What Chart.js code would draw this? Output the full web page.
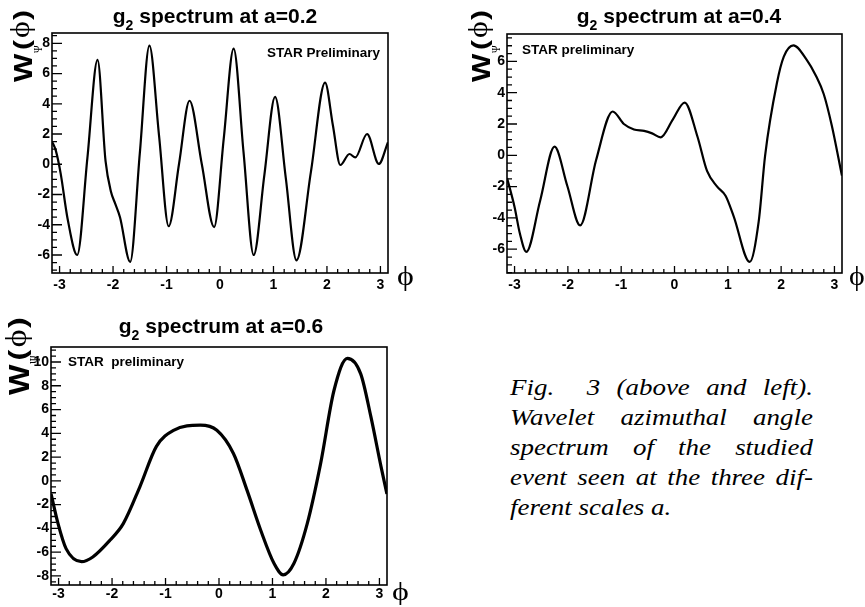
<!DOCTYPE html>
<html>
<head>
<meta charset="utf-8">
<script src="https://cdn.jsdelivr.net/npm/chart.js@4"></script>
<style>
  body { margin: 0; background: #fff; width: 865px; height: 607px; position: relative; overflow: hidden; }
  canvas { position: absolute; }
  #caption { position: absolute; left: 510px; top: 372px; width: 270px; font: italic 24px "Liberation Serif", serif; line-height: 30px; color: #000; transform: scaleX(1.122); transform-origin: 0 0; }
  #caption div { text-align: justify; text-align-last: justify; }
  #caption div.last { text-align: left; text-align-last: left; }
</style>
</head>
<body>
<canvas id="c1" width="432" height="300" style="left:0;top:0"></canvas>
<canvas id="c2" width="433" height="300" style="left:432px;top:0"></canvas>
<canvas id="c3" width="432" height="307" style="left:0;top:300px"></canvas>
<div id="caption">
  <div>Fig. &nbsp;3 (above and left).</div>
  <div>Wavelet azimuthal angle</div>
  <div>spectrum of the studied</div>
  <div>event seen at the three dif-</div>
  <div class="last">ferent scales <i>a</i>.</div>
</div>
<script>
// valeurs (phi, W)
const phi1 = [-3.14, -3.07, -2.98, -2.85, -2.67, -2.48, -2.29, -2.14, -2.04, -1.96, -1.87, -1.68, -1.50, -1.32, -1.14, -0.96, -0.765, -0.57, -0.34, -0.11, 0.07, 0.255, 0.44, 0.63, 0.83, 1.03, 1.23, 1.43, 1.70, 1.965, 2.11, 2.25, 2.42, 2.53, 2.75, 2.97, 3.14];
const w1   = [1.5, 0.9, -0.6, -3.6, -6.0, 0.4, 6.9, 0.2, -1.8, -2.6, -3.5, -6.45, 0.7, 7.85, 1.9, -4.1, 0.05, 4.2, 0.0, -4.15, 1.7, 7.65, 0.8, -6.0, -0.7, 4.45, -0.9, -6.35, -0.5, 5.4, 2.6, -0.05, 0.68, 0.45, 2.0, 0.02, 1.45];

const phi2 = [-3.14, -3.0, -2.9, -2.78, -2.52, -2.25, -2.01, -1.77, -1.47, -1.16, -0.95, -0.76, -0.57, -0.42, -0.26, -0.03, 0.19, 0.43, 0.61, 0.80, 0.96, 1.11, 1.41, 1.58, 1.70, 1.92, 2.05, 2.23, 2.48, 2.65, 2.80, 2.95, 3.14];
const w2   = [-1.45, -3.3, -5.0, -6.17, -2.9, 0.55, -1.96, -4.48, -0.3, 2.8, 2.0, 1.65, 1.56, 1.4, 1.15, 2.3, 3.37, 1.2, -1.0, -2.0, -2.6, -3.9, -6.81, -4.2, 0.0, 4.6, 6.3, 7.02, 6.1, 5.1, 3.9, 1.9, -1.3];

const phi3 = [-3.14, -3.01, -2.86, -2.57, -2.36, -2.04, -1.79, -1.48, -1.17, -0.85, -0.35, -0.04, 0.27, 0.525, 0.78, 1.03, 1.20, 1.40, 1.65, 1.90, 2.15, 2.40, 2.65, 2.84, 3.03, 3.14];
const w3   = [-1.1, -3.6, -5.7, -6.8, -6.4, -5.0, -3.6, -0.5, 2.9, 4.25, 4.68, 4.25, 2.3, -0.8, -4.15, -6.95, -7.9, -6.95, -3.6, 1.45, 7.6, 10.3, 9.0, 5.4, 1.2, -1.1];

const xTickLabels = [-3, -2, -1, 0, 1, 2, 3];
const yTicks1 = [-6, -4, -2, 0, 2, 4, 6, 8];
const yTicks2 = [-6, -4, -2, 0, 2, 4, 6];
const yTicks3 = [-8, -6, -4, -2, 0, 2, 4, 6, 8, 10];

const SANS = '"Liberation Sans", Arial, sans-serif';
const SERIF = '"Liberation Serif", "DejaVu Serif", serif';

// place l'encre d'un texte dans une boite (rot = lecture de bas en haut)
function fitText(ctx, text, font, x0, y0, x1, y1, rot){
  ctx.save();
  ctx.font = font;
  ctx.textAlign = "left";
  ctx.textBaseline = "alphabetic";
  const m = ctx.measureText(text);
  const iw = m.actualBoundingBoxLeft + m.actualBoundingBoxRight;
  const ih = m.actualBoundingBoxAscent + m.actualBoundingBoxDescent;
  if (rot){
    ctx.translate(x0, y1);
    ctx.rotate(-Math.PI / 2);
    ctx.scale((y1 - y0) / iw, (x1 - x0) / ih);
  } else {
    ctx.translate(x0, y0);
    ctx.scale((x1 - x0) / iw, (y1 - y0) / ih);
  }
  ctx.fillText(text, m.actualBoundingBoxLeft, m.actualBoundingBoxAscent);
  ctx.restore();
}

function drawTitle(ctx, cx, base, scale){
  const rest = " spectrum at a=" + scale;
  const big = "bold 21px " + SANS, small = "bold 14px " + SANS;
  ctx.font = big;
  const wg = ctx.measureText("g").width, wr = ctx.measureText(rest).width;
  ctx.font = small;
  const w2 = ctx.measureText("2").width;
  let x = cx - (wg + w2 + wr) / 2;
  ctx.font = big;   ctx.fillText("g", x, base); x += wg;
  ctx.font = small; ctx.fillText("2", x, base + 7); x += w2;
  ctx.font = big;   ctx.fillText(rest, x, base);
}

function drawYLabel(ctx, bx, by, k){
  const box = (dx0, dx1, up0, up1) => [bx + dx0 * k, by - up1 * k, bx + dx1 * k, by - up0 * k];
  fitText(ctx, "W", "bold 30px " + SANS, ...box(0, 17.7, 0, 29), true);
  fitText(ctx, "Ψ", "14px " + SERIF, ...box(19, 28, 29, 37), true);
  fitText(ctx, "(", "bold 30px " + SANS, ...box(-1, 19, 33, 42), true);
  fitText(ctx, "ϕ", "28px " + SERIF, ...box(-4, 21, 44, 60), true);
  fitText(ctx, ")", "bold 30px " + SANS, ...box(-1, 19, 62, 71), true);
}

// cadre + graduations internes façon ROOT
const rootStyle = {
  id: "rootStyle",
  afterDatasetsDraw(chart, args, o){
    const { ctx, chartArea: a, scales: { x, y } } = chart;
    ctx.save();
    ctx.strokeStyle = "#000";
    ctx.fillStyle = "#000";
    ctx.lineWidth = 1.3;
    ctx.beginPath();
    for (let i = -16; i <= 16; i++){
      const v = i / 5;
      if (v < x.min || v > x.max) continue;
      const px = x.getPixelForValue(v);
      ctx.moveTo(px, a.bottom);
      ctx.lineTo(px, a.bottom - (i % 5 === 0 ? 7 : 4));
    }
    for (let v = Math.ceil(y.min * 2) / 2; v <= y.max; v += 0.5){
      const py = y.getPixelForValue(v);
      ctx.moveTo(a.left, py);
      ctx.lineTo(a.left + (v % 2 === 0 ? 10 : 5), py);
    }
    ctx.stroke();
    ctx.lineWidth = 1.6;
    ctx.strokeRect(a.left, a.top, a.right - a.left, a.bottom - a.top);

    ctx.textBaseline = "alphabetic";
    ctx.textAlign = "left";
    drawTitle(ctx, o.titleX, o.titleY, o.scale);
    drawYLabel(ctx, o.ylabX, o.ylabY, o.ylabK);
    fitText(ctx, "ϕ", "32px " + SERIF, ...o.phiBox, false);

    ctx.font = "bold 13.5px " + SANS;
    ctx.textAlign = o.starAlign;
    ctx.fillText(o.star, o.starX, o.starY);
    ctx.restore();
  }
};

function makeChart(id, phi, w, yMin, yMax, yTicks, area, deco, lineW, xPad){
  const cv = document.getElementById(id);
  const W = cv.width, H = cv.height;
  const tickFont = { family: SANS, size: 14, weight: "bold" };
  return new Chart(cv, {
    type: "line",
    data: {
      datasets: [{
        data: phi.map((p, i) => ({ x: p, y: w[i] })),
        borderColor: "#000",
        borderWidth: lineW,
        pointRadius: 0,
        cubicInterpolationMode: "monotone",
        fill: false
      }]
    },
    options: {
      responsive: false,
      animation: false,
      events: [],
      layout: { padding: { left: 0, top: area[1], right: W - area[2], bottom: 0 } },
      plugins: { legend: { display: false }, tooltip: { enabled: false }, rootStyle: deco },
      scales: {
        x: {
          type: "linear", min: -Math.PI, max: Math.PI,
          grid: { display: false, drawTicks: false }, border: { display: false },
          afterBuildTicks: s => { s.ticks = xTickLabels.map(v => ({ value: v })); },
          afterFit: s => { s.height = H - area[3]; },
          ticks: { color: "#000", font: tickFont, padding: xPad, autoSkip: false, maxRotation: 0 }
        },
        y: {
          min: yMin, max: yMax,
          grid: { display: false, drawTicks: false }, border: { display: false },
          afterBuildTicks: s => { s.ticks = yTicks.map(v => ({ value: v })); },
          afterFit: s => { s.width = area[0]; },
          ticks: { color: "#000", font: tickFont, padding: 2 }
        }
      }
    },
    plugins: [rootStyle]
  });
}

makeChart("c1", phi1, w1, -7.19, 8.68, yTicks1, [52, 33, 388, 273],
  { scale: "0.2", titleX: 215, titleY: 23, ylabX: 14, ylabY: 82, ylabK: 1, phiBox: [398, 266, 413, 291],
    star: "STAR Preliminary", starX: 380, starY: 57, starAlign: "right" }, 2.2, 3.5);

makeChart("c2", phi2, w2, -7.52, 7.75, yTicks2, [75, 34, 410, 273],
  { scale: "0.4", titleX: 247, titleY: 23, ylabX: 40, ylabY: 82, ylabK: 1, phiBox: [418, 266, 432, 291],
    star: "STAR preliminary", starX: 90, starY: 54, starAlign: "left" }, 2.2, 3.5);

makeChart("c3", phi3, w3, -8.76, 11.26, yTicks3, [51, 47, 387, 285],
  { scale: "0.6", titleX: 221, titleY: 33, ylabX: 10, ylabY: 95, ylabK: 1.08, phiBox: [393, 283, 408, 305],
    star: "STAR  preliminary", starX: 68, starY: 66, starAlign: "left" }, 3.2, 1);
</script>
</body>
</html>
